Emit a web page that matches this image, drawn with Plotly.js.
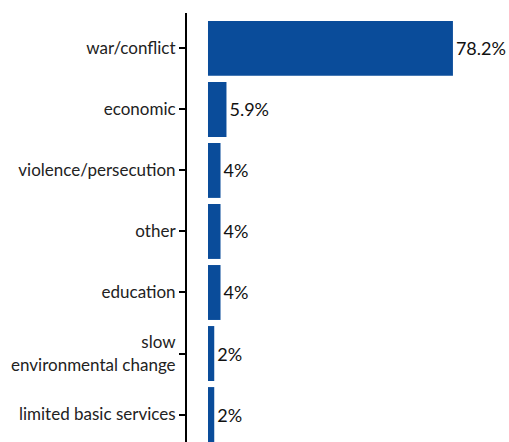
<!DOCTYPE html>
<html>
<head>
<meta charset="utf-8">
<script src="https://cdn.plot.ly/plotly-3.0.1.min.js"></script>
<style>html,body{margin:0;padding:0;background:#fff;}#chart{width:509px;height:442px;}</style>
</head>
<body>
<div id="chart"></div>
<script>
const categories = ["war/conflict", "economic", "violence/persecution", "other", "education", "slow<br>environmental change", "limited basic services"];
const values = [78.2, 5.9, 4, 4, 4, 2, 2];
const labels = ["78.2%", "5.9%", "4%", "4%", "4%", "2%", "2%"];

const trace = {
  type: 'bar',
  orientation: 'h',
  x: values,
  y: categories,
  text: labels,
  textposition: 'outside',
  cliponaxis: false,
  textfont: {family: 'Lato, sans-serif', size: 18, color: '#111'},
  marker: {color: '#0a4c9a'},
  hoverinfo: 'none'
};

const layout = {
  width: 509,
  height: 442,
  margin: {l: 187, r: 0, t: 13, b: 0, pad: 0},
  paper_bgcolor: '#fff',
  plot_bgcolor: '#fff',
  bargap: 0.1,
  showlegend: false,
  xaxis: {
    range: [-6.7, 96.1],
    visible: false,
    showgrid: false,
    zeroline: false,
    fixedrange: true
  },
  yaxis: {
    type: 'category',
    categoryorder: 'array',
    categoryarray: categories,
    range: [6.45, -0.58],
    showline: true,
    linecolor: '#000',
    linewidth: 2,
    ticks: 'outside',
    ticklen: 6,
    tickwidth: 2,
    tickcolor: '#000',
    showgrid: false,
    zeroline: false,
    automargin: false,
    tickfont: {family: 'Lato, sans-serif', size: 17, color: '#222'}
  }
};

Plotly.newPlot('chart', [trace], layout, {displayModeBar: false, staticPlot: true});
</script>
</body>
</html>
